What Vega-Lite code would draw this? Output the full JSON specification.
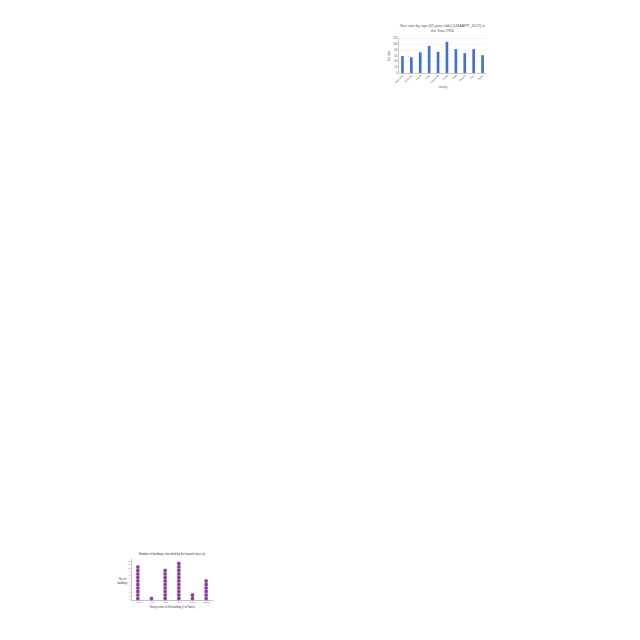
{
  "$schema": "https://vega.github.io/schema/vega-lite/v6.json",
  "background": "white",
  "padding": {"left": 116, "top": 24, "right": 0, "bottom": 0},
  "config": {"view": {"stroke": null}, "font": "Liberation Sans"},
  "datasets": {
    "ratio": [
      {"country": "Argentina", "ratio": 58},
      {"country": "Australia", "ratio": 54},
      {"country": "Brazil", "ratio": 71},
      {"country": "Chile", "ratio": 93},
      {"country": "Colombia", "ratio": 73},
      {"country": "Cuba", "ratio": 107},
      {"country": "Haiti", "ratio": 82},
      {"country": "Mexico", "ratio": 68},
      {"country": "Peru", "ratio": 82},
      {"country": "Spain", "ratio": 61}
    ],
    "dots": [
      {"bin": "1-10", "n": 1}, {"bin": "1-10", "n": 2}, {"bin": "1-10", "n": 3}, {"bin": "1-10", "n": 4}, {"bin": "1-10", "n": 5},
      {"bin": "1-10", "n": 6}, {"bin": "1-10", "n": 7}, {"bin": "1-10", "n": 8}, {"bin": "1-10", "n": 9}, {"bin": "1-10", "n": 10},
      {"bin": "1-2", "n": 1},
      {"bin": "2-5", "n": 1}, {"bin": "2-5", "n": 2}, {"bin": "2-5", "n": 3}, {"bin": "2-5", "n": 4}, {"bin": "2-5", "n": 5},
      {"bin": "2-5", "n": 6}, {"bin": "2-5", "n": 7}, {"bin": "2-5", "n": 8}, {"bin": "2-5", "n": 9},
      {"bin": "5-9", "n": 1}, {"bin": "5-9", "n": 2}, {"bin": "5-9", "n": 3}, {"bin": "5-9", "n": 4}, {"bin": "5-9", "n": 5},
      {"bin": "5-9", "n": 6}, {"bin": "5-9", "n": 7}, {"bin": "5-9", "n": 8}, {"bin": "5-9", "n": 9}, {"bin": "5-9", "n": 10}, {"bin": "5-9", "n": 11},
      {"bin": "10-19", "n": 1}, {"bin": "10-19", "n": 2},
      {"bin": "20-29", "n": 1}, {"bin": "20-29", "n": 2}, {"bin": "20-29", "n": 3}, {"bin": "20-29", "n": 4}, {"bin": "20-29", "n": 5}, {"bin": "20-29", "n": 6}
    ],
    "spacer": [{"a": 1}]
  },
  "spacing": 174,
  "hconcat": [
    {
      "spacing": 510,
      "vconcat": [
        {
          "width": 1, "height": 1,
          "data": {"name": "spacer"},
          "mark": {"type": "point", "opacity": 0},
          "encoding": {}
        },
        {
          "width": 82, "height": 42,
          "title": {"text": "Number of buildings classified by the hazard class (n)", "fontSize": 2.8, "fontWeight": "normal", "color": "#333333", "offset": 3, "anchor": "middle"},
          "data": {"name": "dots"},
          "mark": {"type": "circle", "size": 12, "opacity": 1, "color": "#8E3F9E", "stroke": "#6B2A7B", "strokeWidth": 0.3},
          "encoding": {
            "x": {
              "field": "bin", "type": "ordinal",
              "sort": ["1-10", "1-2", "2-5", "5-9", "10-19", "20-29"],
              "scale": {"paddingInner": 0, "paddingOuter": 0.3},
              "axis": {"title": "Storey count of the building (# of floors)", "titleFontSize": 2.6, "titleFontWeight": "normal", "titleColor": "#333333", "titlePadding": 2, "labelAngle": 0, "labelFontSize": 2.5, "labelColor": "#555555", "labelPadding": 1, "tickSize": 0, "domainColor": "#888888", "domainWidth": 0.5}
            },
            "y": {
              "field": "n", "type": "quantitative",
              "scale": {"domain": [0.6, 12.6], "nice": false},
              "axis": {"title": ["No. of", "buildings"], "titleAngle": 0, "titleAlign": "center", "titleBaseline": "middle", "titleX": -9, "titleY": 20, "titleFontSize": 2.6, "titleFontWeight": "normal", "titleColor": "#333333", "values": [1,2,3,4,5,6,7,8,9,10,11,12], "labelFontSize": 2.3, "labelColor": "#777777", "labelPadding": 1, "tickSize": 0, "grid": false, "domainColor": "#888888", "domainWidth": 0.5}
            }
          }
        }
      ]
    },
    {
      "width": 89, "height": 35,
      "title": {"text": ["Sex ratio by age (65 year olds) [USAAPP_2017] in", "the Year 1990"], "fontSize": 3.8, "fontWeight": "normal", "color": "#595959", "offset": 4, "anchor": "middle", "lineHeight": 5},
      "data": {"name": "ratio"},
      "mark": {"type": "bar", "color": "#4472C4"},
      "encoding": {
        "x": {
          "field": "country", "type": "nominal", "sort": null,
          "scale": {"paddingInner": 0.7, "paddingOuter": 0.35},
          "axis": {"title": "Country", "titleFontSize": 2.6, "titleFontWeight": "normal", "titleColor": "#595959", "titlePadding": 2, "labelAngle": -45, "labelFontSize": 2.6, "labelColor": "#595959", "labelPadding": 1, "tickSize": 0, "domainColor": "#999999", "domainWidth": 0.5}
        },
        "y": {
          "field": "ratio", "type": "quantitative",
          "scale": {"domain": [0, 120], "nice": false},
          "axis": {"title": "Sex ratio", "titleFontSize": 2.6, "titleFontWeight": "normal", "titleColor": "#595959", "titlePadding": 2, "values": [0, 20, 40, 60, 80, 100, 120], "labelFontSize": 2.6, "labelColor": "#595959", "labelPadding": 1, "tickSize": 0, "grid": true, "gridColor": "#E6E6E6", "gridWidth": 0.4, "domainColor": "#999999", "domainWidth": 0.5}
        }
      }
    }
  ]
}
